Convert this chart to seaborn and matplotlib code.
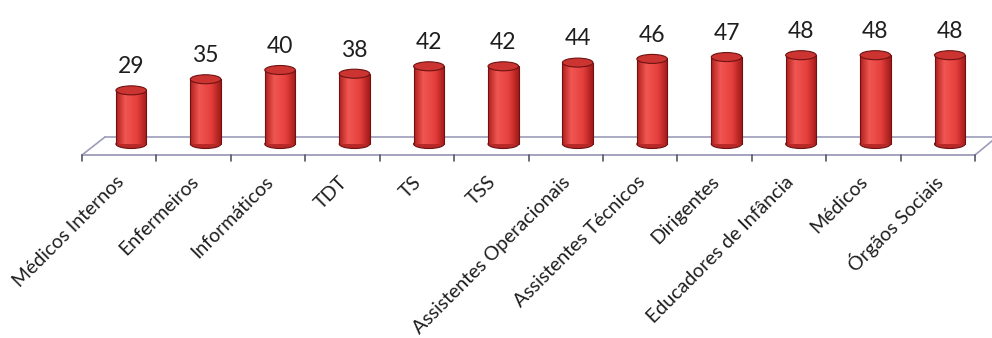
import numpy as np
import matplotlib
matplotlib.use("Agg")
import matplotlib.pyplot as plt
import seaborn as sns
from matplotlib.patches import Ellipse
from matplotlib.colors import to_rgb

categories = ["Médicos Internos", "Enfermeiros", "Informáticos", "TDT", "TS", "TSS",
              "Assistentes Operacionais", "Assistentes Técnicos", "Dirigentes",
              "Educadores de Infância", "Médicos", "Órgãos Sociais"]
values = [29, 35, 40, 38, 42, 42, 44, 46, 47, 48, 48, 48]

sns.set_theme(style="white")
plt.rcParams['font.family'] = ['Lato', 'DejaVu Sans']

W, H = 992, 338
fig = plt.figure(figsize=(W / 100, H / 100), dpi=100)
ax_left, ax_right = 94, 987
ax_top, ax_bottom = 30, 170
ax = fig.add_axes([ax_left / W, (H - ax_bottom) / H, (ax_right - ax_left) / W, (ax_bottom - ax_top) / H])

base_px = 144
px_per_unit = 1.85
ymin = -(ax_bottom - base_px) / px_per_unit
ymax = (base_px - ax_top) / px_per_unit
ncat = len(categories)
xlim = (-0.5, ncat - 0.5)
unit_px_x = (ax_right - ax_left) / ncat

bar_w = 0.41
sns.barplot(x=categories, y=values, color="#e0403e", width=bar_w, ax=ax,
            linewidth=0, zorder=3)

# floor (3D look)
floor_col = "#9c9cba"
fx0 = (82 - ax_left) / unit_px_x - 0.5
fy_front = -(155 - base_px) / px_per_unit
fy_back = (base_px - 137) / px_per_unit
shift = 23 / unit_px_x
ax.plot([fx0, fx0 + ncat], [fy_front, fy_front], color=floor_col, lw=1.3, zorder=1, clip_on=False)
ax.plot([fx0 + shift, fx0 + ncat + shift], [fy_back, fy_back], color=floor_col, lw=1.2, zorder=1, clip_on=False)
ax.plot([fx0, fx0 + shift], [fy_front, fy_back], color=floor_col, lw=1.2, zorder=1, clip_on=False)
ax.plot([fx0 + ncat, fx0 + ncat + shift * 0.9], [fy_front, fy_back - 0.5], color=floor_col, lw=1.2, zorder=1, clip_on=False)
tick_len = 6 / px_per_unit
for k in range(ncat + 1):
    ax.plot([fx0 + k, fx0 + k], [fy_front, fy_front - tick_len], color="#555566", lw=1.2,
            zorder=1, clip_on=False)

# cylinder shading
stops = [(0.0, "#b01f1d"), (0.3, "#f05752"), (0.68, "#e5403d"), (1.0, "#a21a18")]
xs = np.linspace(0, 1, 64)
grad = np.zeros((1, 64, 3))
for c in range(3):
    grad[0, :, c] = np.interp(xs, [s[0] for s in stops], [to_rgb(s[1])[c] for s in stops])

cap_h = 9 / px_per_unit
edge = "#6e1212"
for p in ax.patches:
    x0 = p.get_x()
    w = p.get_width()
    h = p.get_height()
    xc = x0 + w / 2
    p.set_alpha(0)
    ax.add_patch(Ellipse((xc, 0), w, cap_h, facecolor="#b82826", edgecolor=edge, lw=0.8, zorder=2))
    ax.imshow(grad, extent=[x0, x0 + w, 0, h], aspect="auto", zorder=3, interpolation="bilinear")
    ax.plot([x0, x0], [0, h], color=edge, lw=0.8, zorder=4)
    ax.plot([x0 + w, x0 + w], [0, h], color=edge, lw=0.8, zorder=4)
    ax.add_patch(Ellipse((xc, h), w, cap_h, facecolor="#cc3431", edgecolor=edge, lw=0.8, zorder=5))
    ax.annotate(f"{h:.0f}", (xc, h), xytext=(0, 17), textcoords="offset points",
                ha="center", va="center", fontsize=16.5, color="#1e1e1e", clip_on=False)

# category labels
lab_y = -(179 - base_px) / px_per_unit
lab_dx = -10 / unit_px_x
for i, name in enumerate(categories):
    ax.text(i + lab_dx, lab_y, name, rotation=45, ha="right", va="center",
            rotation_mode="anchor", fontsize=14, color="#1e1e1e", clip_on=False)

ax.set_xlim(*xlim)
ax.set_ylim(ymin, ymax)
ax.set_xticks([])
ax.set_yticks([])
ax.set_xlabel("")
ax.set_ylabel("")
sns.despine(ax=ax, left=True, bottom=True)

fig.savefig("out.png", dpi=100)
